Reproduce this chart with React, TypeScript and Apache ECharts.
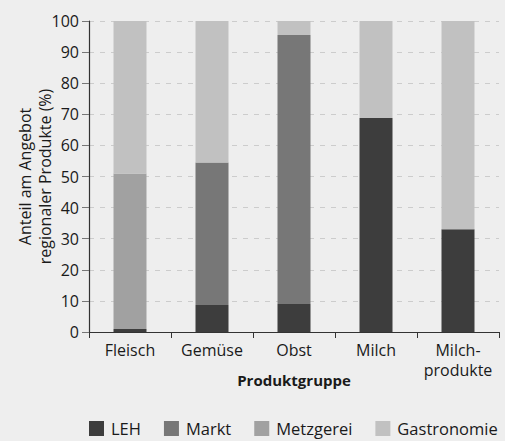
import React, { useEffect, useRef } from "react";
import * as echarts from "echarts";

const categories = ["Fleisch", "Gemüse", "Obst", "Milch", "Milch-\nprodukte"];
const seriesNames = ["LEH", "Markt", "Metzgerei", "Gastronomie"];
const lehValues = [1, 8.7, 9, 68.8, 33];
const marktValues = [0, 45.8, 86.5, 0, 0];
const metzgereiValues = [50, 0, 0, 0, 0];
const gastronomieValues = [49, 45.5, 4.5, 31.2, 67];
const colors = ["#3d3d3d", "#777777", "#a1a1a1", "#c1c1c1"];
const yTicks = [0, 10, 20, 30, 40, 50, 60, 70, 80, 90, 100];

const FONT = "'Open Sans', 'Noto Sans', sans-serif";

export default function App() {
  const ref = useRef<HTMLDivElement>(null);
  useEffect(() => {
    document.body.style.margin = "0";
    if (!ref.current) return;
    const chart = echarts.init(ref.current, undefined, { renderer: "svg" });
    const data = [lehValues, marktValues, metzgereiValues, gastronomieValues];
    chart.setOption({
      animation: false,
      backgroundColor: "#eeeeee",
      textStyle: { fontFamily: FONT },
      grid: { left: 89, right: 6, top: 21, bottom: 109, containLabel: false },
      legend: {
        data: seriesNames,
        left: 89,
        top: 420,
        padding: 0,
        itemWidth: 15,
        itemHeight: 15,
        itemGap: 23,
        icon: "rect",
        textStyle: { fontSize: 16.5, color: "#1a1a1a", fontFamily: FONT, padding: [0, 0, 0, 2] },
      },
      xAxis: {
        type: "category",
        data: categories,
        name: "Produktgruppe",
        nameLocation: "middle",
        nameGap: 40,
        nameMoveOverlap: false,
        nameTextStyle: { fontSize: 15, fontWeight: "bold", color: "#1a1a1a", fontFamily: FONT },
        axisLine: { lineStyle: { color: "#333333", width: 1.2 } },
        axisTick: { show: true, length: 6, lineStyle: { color: "#333333" } },
        axisLabel: { interval: 0, fontSize: 16, color: "#1a1a1a", margin: 8, lineHeight: 20, fontFamily: FONT },
      },
      yAxis: {
        type: "value",
        min: 0,
        max: 100,
        interval: 10,
        name: "Anteil am Angebot\nregionaler Produkte (%)",
        nameLocation: "middle",
        nameGap: 34,
        nameMoveOverlap: false,
        nameTextStyle: { fontSize: 16, color: "#1a1a1a", lineHeight: 20, fontFamily: FONT },
        axisLine: { show: true, lineStyle: { color: "#333333", width: 1.2 } },
        axisTick: { show: true, length: 7, lineStyle: { color: "#777777" } },
        axisLabel: {
          fontSize: 16,
          color: "#1a1a1a",
          margin: 10,
          fontFamily: FONT,
          formatter: (v: number) => (yTicks.includes(v) ? String(v) : ""),
        },
        splitLine: { show: true, lineStyle: { color: "#cccccc", type: [5, 6] } },
      },
      series: seriesNames.map((name, i) => ({
        name,
        type: "bar",
        stack: "total",
        barWidth: 33,
        data: data[i],
        itemStyle: { color: colors[i] },
      })),
    });
    return () => chart.dispose();
  }, []);
  return <div ref={ref} style={{ width: 505, height: 441 }} />;
}
